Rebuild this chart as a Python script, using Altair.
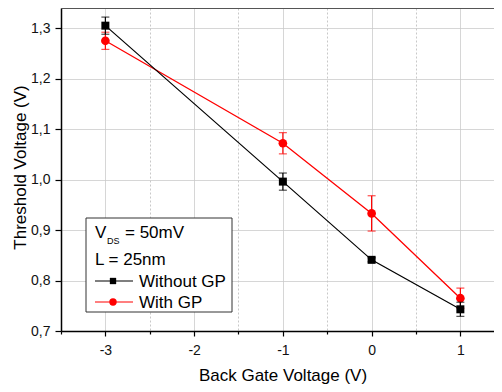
import altair as alt
import pandas as pd

# ---- data ----
bgv = [-3, -1, 0, 1]
vt_without = [1.305, 0.996, 0.841, 0.743]
err_without = [0.017, 0.017, 0.004, 0.014]
vt_with = [1.275, 1.072, 0.933, 0.765]
err_with = [0.017, 0.021, 0.035, 0.020]

x_ticks = [-3.5, -3, -2.5, -2, -1.5, -1, -0.5, 0, 0.5, 1]
y_ticks = [0.70, 0.75, 0.80, 0.85, 0.90, 0.95, 1.00, 1.05, 1.10, 1.15, 1.20, 1.25, 1.30]

series_names = ["Without GP", "With GP"]
series_colors = ["#000000", "#ff0000"]
legend_notes = ["V", "DS", "= 50mV", "L = 25nm"]

W, H = 433, 323
FONT = "Liberation Sans"

rows = []
for name, vals, errs in [(series_names[0], vt_without, err_without),
                         (series_names[1], vt_with, err_with)]:
    for x, v, e in zip(bgv, vals, errs):
        rows.append({"series": name, "x": x, "v": v, "lo": v - e, "hi": v + e})
df = pd.DataFrame(rows)

xscale = alt.Scale(domain=[-3.5, 1.379], nice=False, zero=False)
yscale = alt.Scale(domain=[0.70, 1.34], nice=False, zero=False)

x_major = "abs(datum.value - round(datum.value)) < 0.001"
y_major = "abs(datum.value*10 - round(datum.value*10)) < 0.001"

xaxis = alt.Axis(
    values=x_ticks,
    title="Back Gate Voltage (V)",
    titleFont=FONT, titleFontSize=17, titleFontWeight="normal", titleColor="#000",
    titleX=221.5, titleY=49, titleBaseline="alphabetic", titleAlign="center",
    labelExpr=f"{x_major} ? '' + datum.value : ''",
    labelFont=FONT, labelFontSize=14, labelColor="#111", labelPadding=7,
    labelFlush=False, labelOverlap=False,
    grid=True,
    gridColor="#c8c8c8",
    gridDash={"condition": {"test": x_major, "value": [1, 0]}, "value": [2, 2]},
    gridWidth=1,
    domainColor="#000", domainWidth=1.5,
    tickColor="#000", tickWidth=1.2,
    tickSize={"condition": {"test": x_major, "value": 5}, "value": 3},
)

yaxis = alt.Axis(
    values=y_ticks,
    title="Threshold Voltage (V)",
    titleFont=FONT, titleFontSize=17, titleFontWeight="normal", titleColor="#000",
    titleX=-36, titleY=159, titleAngle=-90, titleBaseline="alphabetic", titleAlign="center",
    labelExpr=f"{y_major} ? replace(format(datum.value, '.1f'), '.', ',') : ''",
    labelFont=FONT, labelFontSize=14, labelColor="#111", labelPadding=5,
    labelFlush=False, labelOverlap=False,
    grid=True,
    gridColor="#c8c8c8",
    gridDash={"condition": {"test": y_major, "value": [1, 0]}, "value": [2, 2]},
    gridWidth=1,
    domainColor="#000", domainWidth=1.5,
    tickColor="#000", tickWidth=1.2,
    tickSize={"condition": {"test": y_major, "value": 6}, "value": 3},
)

base = alt.Chart(df)

axes_layer = base.mark_point(opacity=0).encode(
    x=alt.X("x:Q", scale=xscale, axis=xaxis),
    y=alt.Y("v:Q", scale=yscale, axis=yaxis),
)

layers = [axes_layer]
for name, shape, size, sw in [(series_names[1], "circle", 75, 1.3), (series_names[0], "square", 64, 1.2)]:
    sub = base.transform_filter(alt.datum.series == name)
    c = series_colors[series_names.index(name)]
    layers.append(sub.mark_line(color=c, strokeWidth=sw).encode(
        x=alt.X("x:Q", scale=xscale), y=alt.Y("v:Q", scale=yscale)))
    layers.append(sub.mark_rule(color=c, strokeWidth=1.2).encode(
        x=alt.X("x:Q", scale=xscale), y=alt.Y("lo:Q", scale=yscale), y2="hi:Q"))
    layers.append(sub.mark_tick(color=c, orient="horizontal", size=8, thickness=1.2).encode(
        x=alt.X("x:Q", scale=xscale), y=alt.Y("lo:Q", scale=yscale)))
    layers.append(sub.mark_tick(color=c, orient="horizontal", size=8, thickness=1.2).encode(
        x=alt.X("x:Q", scale=xscale), y=alt.Y("hi:Q", scale=yscale)))
    layers.append(sub.mark_point(color=c, shape=shape, size=size, filled=True, opacity=1).encode(
        x=alt.X("x:Q", scale=xscale), y=alt.Y("v:Q", scale=yscale)))

one = pd.DataFrame({"k": [0]})
ann = alt.Chart(one)

# top frame line
layers.append(ann.mark_rule(color="#555555", strokeWidth=2).encode(
    x=alt.value(0), x2=alt.value(W), y=alt.value(0)))

# legend box
lx0, ly0, lx1, ly1 = 25, 210, 171, 304
layers.append(ann.mark_rect(fill="white", stroke="#333333", strokeWidth=1).encode(
    x=alt.value(lx0), x2=alt.value(lx1), y=alt.value(ly0), y2=alt.value(ly1)))
layers.append(ann.mark_text(text=legend_notes[0], font=FONT, fontSize=17, align="left", baseline="alphabetic", color="#000").encode(
    x=alt.value(34), y=alt.value(230)))
layers.append(ann.mark_text(text=legend_notes[1], font=FONT, fontSize=9, align="left", baseline="alphabetic", color="#000").encode(
    x=alt.value(46), y=alt.value(236)))
layers.append(ann.mark_text(text=legend_notes[2], font=FONT, fontSize=17, align="left", baseline="alphabetic", color="#000").encode(
    x=alt.value(64), y=alt.value(230)))
layers.append(ann.mark_text(text=legend_notes[3], font=FONT, fontSize=17, align="left", baseline="alphabetic", color="#000").encode(
    x=alt.value(34), y=alt.value(257)))

for i, (name, shape, size) in enumerate([(series_names[0], "square", 40), (series_names[1], "circle", 55)]):
    yy = 273 + i * 21
    c = series_colors[i]
    layers.append(ann.mark_rule(color=c, strokeWidth=1.2).encode(
        x=alt.value(34), x2=alt.value(72), y=alt.value(yy)))
    layers.append(ann.mark_point(color=c, shape=shape, size=size, filled=True, opacity=1).encode(
        x=alt.value(52), y=alt.value(yy)))
    layers.append(ann.mark_text(text=name, font=FONT, fontSize=17, align="left", baseline="middle", color="#000").encode(
        x=alt.value(78), y=alt.value(yy + 1)))

chart = alt.layer(*layers).properties(
    width=W, height=H,
    autosize=alt.AutoSizeParams(type="none"),
    padding={"left": 53, "top": 0, "right": 0, "bottom": 54},
    background="white",
).configure_view(strokeWidth=0)

chart.save("out.html", embed_options={"renderer": "svg", "actions": False})
